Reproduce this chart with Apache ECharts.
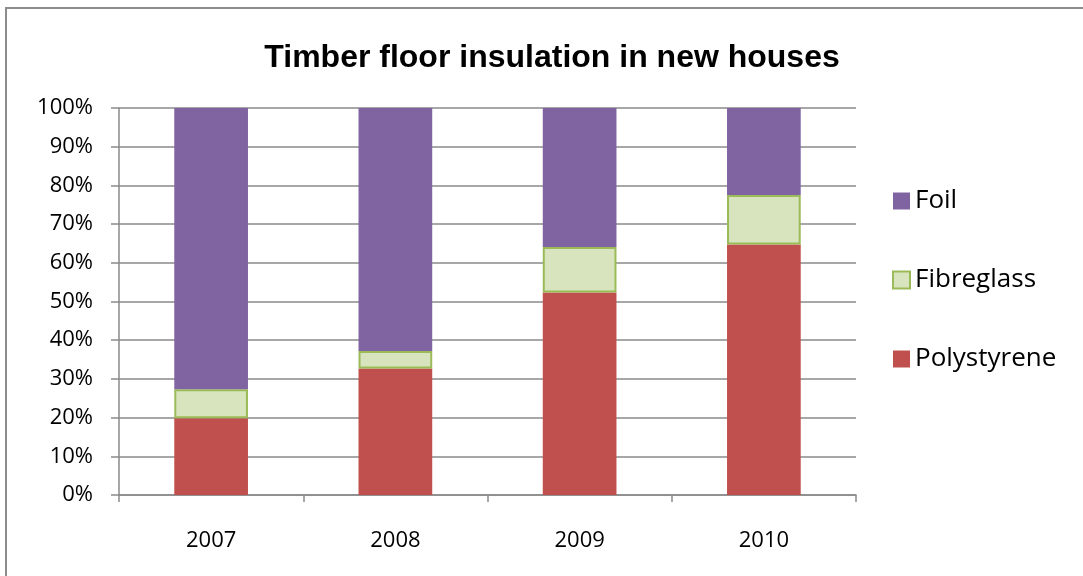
<!DOCTYPE html>
<html>
<head>
<meta charset="utf-8">
<script src="https://cdn.jsdelivr.net/npm/echarts@6/dist/echarts.min.js"></script>
<style>
  html, body { margin: 0; padding: 0; background: #fff; }
  #chart { width: 1083px; height: 576px; }
</style>
</head>
<body>
<div id="chart"></div>
<script>
// values, percent of new houses
var years = ['2007', '2008', '2009', '2010'];
var polystyrene = [19.8, 32.7, 52.3, 64.7];
var fibreglass = [7.5, 4.5, 11.8, 12.8];
var foil = [72.7, 62.8, 35.9, 22.5];
var legendOrder = ['Foil', 'Fibreglass', 'Polystyrene'];

var myChart = echarts.init(document.getElementById('chart'));
var grey = '#8a8a8a';
var font = '"Open Sans", "Liberation Sans", sans-serif';

option = {
	animation: false,
	title: {
		text: 'Timber floor insulation in new houses',
		left: 547,
		top: 37,
		textAlign: 'center',
		textStyle: {
			fontFamily: '"Liberation Sans", sans-serif',
			fontWeight: 'bold',
			fontSize: 32,
			color: '#000'
		}
	},
	legend: {
		orient: 'vertical',
		left: 887,
		top: 183,
		icon: 'rect',
		itemWidth: 17,
		itemHeight: 17,
		itemGap: 53,
		data: legendOrder,
		textStyle: {fontFamily: font, fontSize: 26, color: '#000'}
	},
	grid: {left: 119, right: 227, top: 108, bottom: 81},
	xAxis: {
		type: 'category',
		data: years,
		axisLine: {lineStyle: {color: grey, width: 1.5}},
		axisTick: {show: true, length: 7, lineStyle: {color: grey, width: 1.5}},
		axisLabel: {margin: 35, fontFamily: font, fontSize: 22, color: '#000'}
	},
	yAxis: {
		type: 'value',
		min: 0,
		max: 100,
		interval: 10,
		axisLine: {show: true, lineStyle: {color: grey, width: 1.5}},
		axisTick: {show: true, length: 8, lineStyle: {color: grey, width: 1.5}},
		axisLabel: {formatter: '{value}%', margin: 26, fontFamily: font, fontSize: 22, color: '#000'},
		splitLine: {lineStyle: {color: grey, width: 1.5}}
	},
	graphic: [{
		type: 'rect',
		shape: {x: 6, y: 8, width: 1200, height: 700},
		style: {fill: null, stroke: '#8c8c8c', lineWidth: 2},
		silent: true
	}],
	series: [
		{
			name: 'Polystyrene',
			type: 'bar',
			stack: 'all',
			barWidth: '40%',
			data: polystyrene,
			itemStyle: {color: '#C0504D'}
		},
		{
			name: 'Fibreglass',
			type: 'bar',
			stack: 'all',
			data: fibreglass,
			itemStyle: {color: '#D7E4BD', borderColor: '#9BBB59', borderWidth: 2}
		},
		{
			name: 'Foil',
			type: 'bar',
			stack: 'all',
			data: foil,
			itemStyle: {color: '#8064A2'}
		}
	]
};
myChart.setOption(option);
</script>
</body>
</html>
